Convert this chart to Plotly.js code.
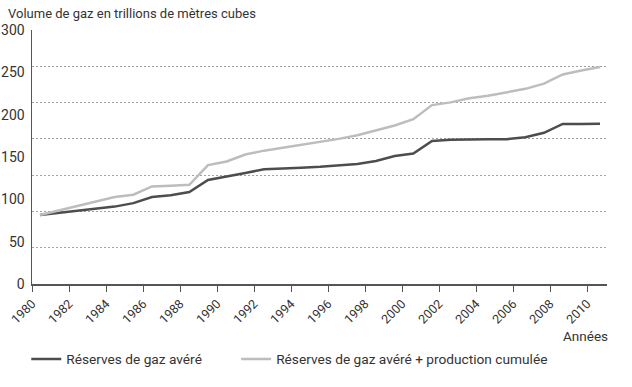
<!DOCTYPE html>
<html>
<head>
<meta charset="utf-8">
<script src="https://cdn.plot.ly/plotly-3.0.1.min.js"></script>
<style>html,body{margin:0;padding:0;background:#fff;}#chart{width:632px;height:387px;}</style>
</head>
<body>
<div id="chart"></div>
<script>
const years = [1980,1981,1982,1983,1984,1985,1986,1987,1988,1989,1990,1991,1992,1993,1994,1995,1996,1997,1998,1999,2000,2001,2002,2003,2004,2005,2006,2007,2008,2009,2010];
const reserves = [81.4,84,86.4,89,91.4,95.5,102.7,104.8,108.6,122.9,126.6,131.2,135.4,136,137.2,138.4,140.1,141.8,145.3,151.2,154.1,169,170.4,171,171,171,173.3,178.6,189.1,189.1,189.3];
const reservesPlusProd = [81.4,86.8,92.2,97.7,102.7,105.4,115.2,116.1,117.1,140.4,144.7,152.9,157.5,161,164.4,167.9,171.4,175.7,181.2,187.2,194.6,211.3,214.5,219.4,222.4,226.5,230.5,236.6,247.5,252.2,256.2];
const seriesNames = ["Réserves de gaz avéré", "Réserves de gaz avéré + production cumulée"];
const yTicks = [0,50,100,150,200,250,300];

const fontFam = "Roboto, 'Liberation Sans', sans-serif";
const traces = [
  // empty helper traces so that the labelled x axis and the grid axis are drawn
  {x: [], y: [], xaxis: 'x', yaxis: 'y', type: 'scatter', mode: 'lines', showlegend: false, hoverinfo: 'skip'},
  {x: [], y: [], xaxis: 'x', yaxis: 'y2', type: 'scatter', mode: 'lines', showlegend: false, hoverinfo: 'skip'},
  {x: years, y: reserves, name: seriesNames[0], type: 'scatter', mode: 'lines', legend: 'legend',
   xaxis: 'x2', yaxis: 'y', line: {color: '#4d4d4d', width: 2.5}},
  {x: years, y: reservesPlusProd, name: seriesNames[1], type: 'scatter', mode: 'lines', legend: 'legend2',
   xaxis: 'x2', yaxis: 'y', line: {color: '#bdbdbd', width: 2.5}}
];
const legendBase = {orientation: 'h', xanchor: 'left', y: (287-363)/257, yanchor: 'middle',
                    font: {size: 13.7, color: '#333'}, itemwidth: 30, bgcolor: 'rgba(0,0,0,0)'};
const layout = {
  width: 632, height: 387,
  margin: {l: 32, r: 25, t: 30, b: 100},
  paper_bgcolor: '#fff', plot_bgcolor: '#fff',
  font: {family: fontFam, size: 13, color: '#333'},
  showlegend: true,
  title: {text: 'Volume de gaz en trillions de mètres cubes', x: 8/632, xanchor: 'left', xref: 'container',
          y: 1 - 13/387, yanchor: 'middle', yref: 'container', font: {family: fontFam, size: 13, color: '#333'}},
  xaxis: {range: [1980, 1980 + 575/18.5], tick0: 1980, dtick: 2, tickangle: -45,
          ticks: 'outside', ticklen: 6, tickcolor: '#555', tickwidth: 1,
          showline: true, linecolor: '#555', linewidth: 1.5, showgrid: false, zeroline: false,
          tickfont: {size: 12.5, color: '#333'}},
  xaxis2: {overlaying: 'x', anchor: 'y', range: [1980 - 8/18.667, 1980 + 567/18.667], visible: false, showgrid: false},
  yaxis: {range: [0, 300], tickvals: yTicks, ticks: '', showline: true, linecolor: '#555', linewidth: 1.5,
          showgrid: false, zeroline: false, tickfont: {size: 14, color: '#333'}, ticklabelstandoff: 3},
  yaxis2: {overlaying: 'y', anchor: 'x', range: [0, 300], tick0: 0, dtick: 300/7, showticklabels: false, ticks: '',
           showgrid: true, gridcolor: '#a0a0a0', gridwidth: 1, griddash: '2px,2px', zeroline: false, showline: false},
  legend: Object.assign({}, legendBase, {x: -0.01}),
  legend2: Object.assign({}, legendBase, {x: 0.355}),
  annotations: [{text: 'Années', xref: 'paper', yref: 'paper', x: 1 + 3/575, xanchor: 'right', y: (287-340)/257,
                 yanchor: 'middle', showarrow: false, font: {size: 13.5, color: '#333'}}]
};
Plotly.newPlot('chart', traces, layout, {displayModeBar: false, staticPlot: true});
</script>
</body>
</html>
